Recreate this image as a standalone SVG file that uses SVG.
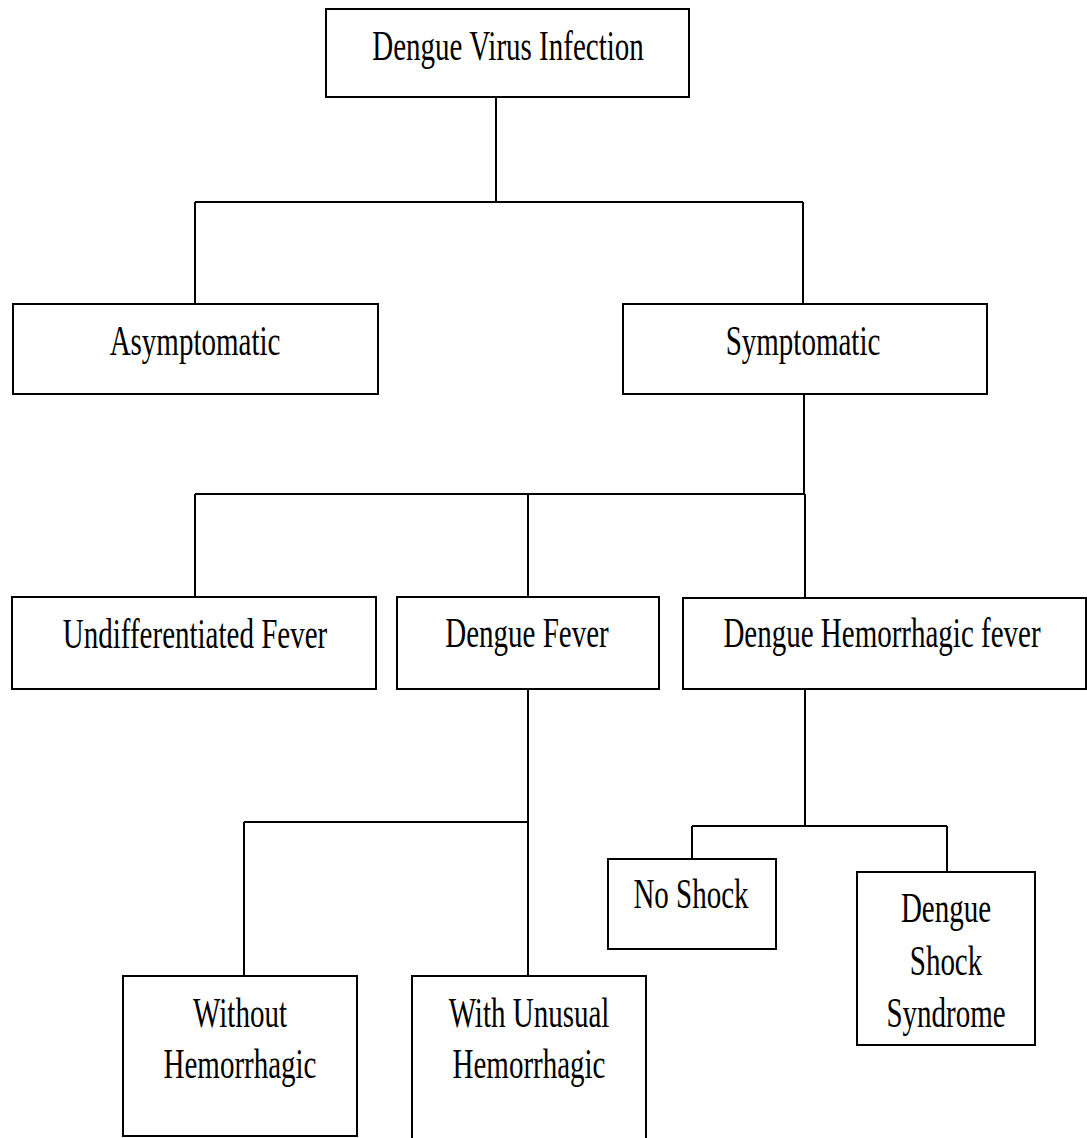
<svg xmlns="http://www.w3.org/2000/svg" width="1087" height="1138" viewBox="0 0 1087 1138">
<style>
.box{fill:#fff;stroke:#000;stroke-width:2}
.ln{fill:none;stroke:#000;stroke-width:2}
.t{font-family:"Liberation Serif","Times New Roman",serif;font-size:29px;fill:#000;text-anchor:middle}
</style>
<rect width="1087" height="1138" fill="#fff"/>
<g id="connectors" class="ln">
<path d="M496,97V202M195,202H803M195,202V304M803,202V304"/>
<path d="M804,394V494M195,494H805M195,494V597M528,494V597M805,494V598"/>
<path d="M528,689V976M244,822H528M244,822V976"/>
<path d="M805,689V826M692,826H947M692,826V859M947,826V872"/>
</g>
<g id="n-dvi"><rect class="box" x="326" y="9" width="363" height="88"/><text class="t" transform="translate(508,60) scale(1,1.42)">Dengue Virus Infection</text></g>
<g id="n-asym"><rect class="box" x="13" y="304" width="365" height="90"/><text class="t" transform="translate(195,355) scale(1,1.42)">Asymptomatic</text></g>
<g id="n-sym"><rect class="box" x="623" y="304" width="364" height="90"/><text class="t" transform="translate(803,355) scale(1,1.42)">Symptomatic</text></g>
<g id="n-uf"><rect class="box" x="12" y="597" width="364" height="92"/><text class="t" transform="translate(195,648) scale(1,1.42)">Undifferentiated Fever</text></g>
<g id="n-df"><rect class="box" x="397" y="597" width="262" height="92"/><text class="t" transform="translate(527,647) scale(1,1.42)">Dengue Fever</text></g>
<g id="n-dhf"><rect class="box" x="683" y="598" width="403" height="91"/><text class="t" transform="translate(882,647) scale(1,1.42)">Dengue Hemorrhagic fever</text></g>
<g id="n-without"><rect class="box" x="123" y="976" width="234" height="160"/><text class="t" transform="translate(240,1027) scale(1,1.42)">Without</text><text class="t" transform="translate(240,1078) scale(1,1.42)">Hemorrhagic</text></g>
<g id="n-with"><rect class="box" x="412" y="976" width="234" height="170"/><text class="t" transform="translate(529,1027) scale(1,1.42)">With Unusual</text><text class="t" transform="translate(529,1078) scale(1,1.42)">Hemorrhagic</text></g>
<g id="n-noshock"><rect class="box" x="608" y="859" width="168" height="90"/><text class="t" transform="translate(691,908) scale(1,1.42)">No Shock</text></g>
<g id="n-dss"><rect class="box" x="857" y="872" width="178" height="173"/><text class="t" transform="translate(946,922) scale(1,1.42)">Dengue</text><text class="t" transform="translate(946,975) scale(1,1.42)">Shock</text><text class="t" transform="translate(946,1027) scale(1,1.42)">Syndrome</text></g>
</svg>
